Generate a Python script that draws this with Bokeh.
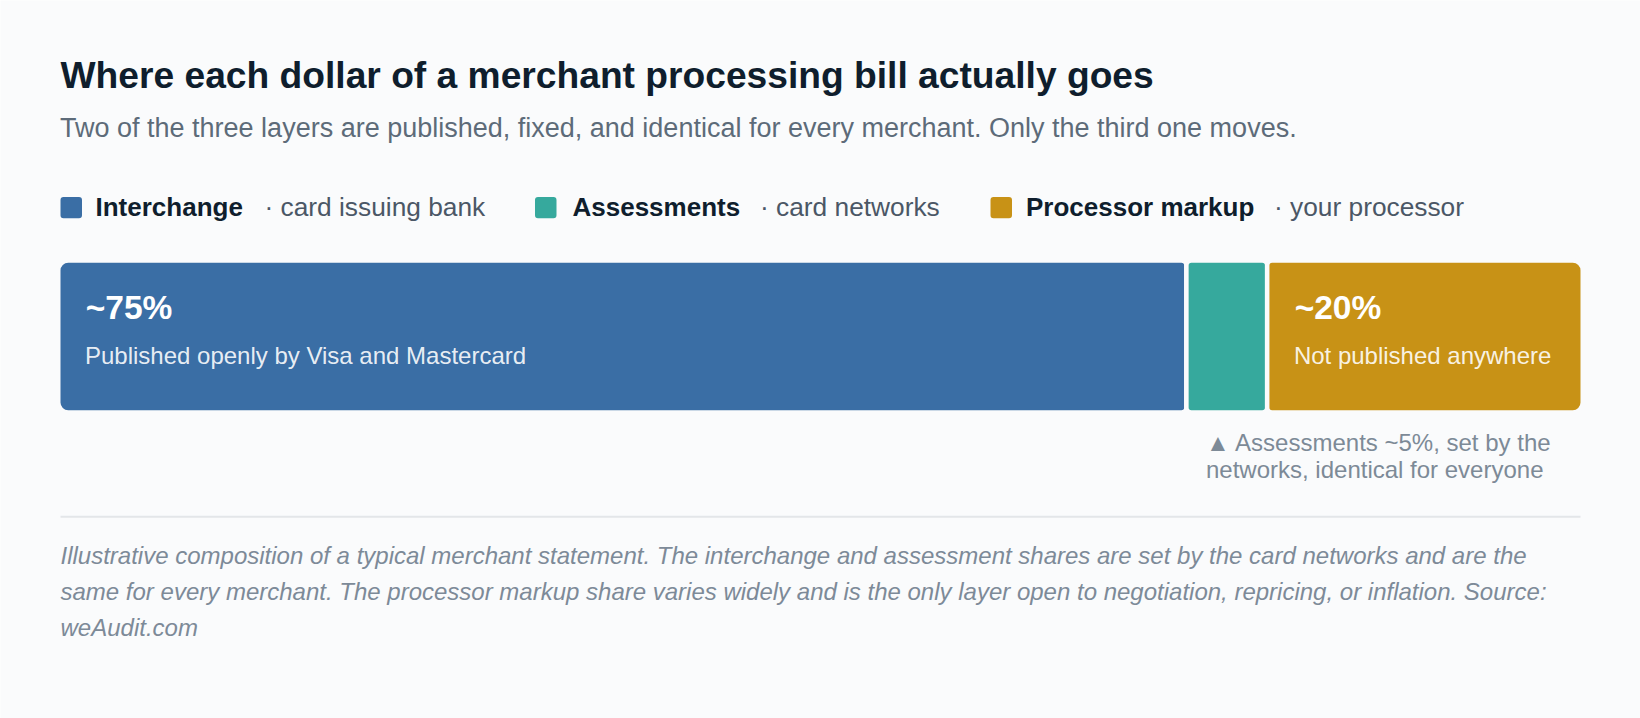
from bokeh.plotting import figure
from bokeh.models import Range1d, Label, BoxAnnotation, ColumnDataSource, CDSView, IndexFilter
from bokeh.embed import file_html
from bokeh.resources import INLINE
from bokeh.core.properties import value

# ---------------- data ----------------
segments = ["Interchange", "Assessments", "Processor markup"]
owners = ["card issuing bank", "card networks", "your processor"]
shares = [74.0, 5.3, 20.7]
share_labels = ["~75%", "", "~20%"]
notes = ["Published openly by Visa and Mastercard", "", "Not published anywhere"]
colors = ["#3a6ea5", "#36a99d", "#c89216"]

title = "Where each dollar of a merchant processing bill actually goes"
subtitle = ("Two of the three layers are published, fixed, and identical for every merchant. "
            "Only the third one moves.")
callout = ["\u25B2 Assessments ~5%, set by the", "networks, identical for everyone"]
footer = [
    "Illustrative composition of a typical merchant statement. The interchange and assessment shares are set by the card networks and are the",
    "same for every merchant. The processor markup share varies widely and is the only layer open to negotiation, repricing, or inflation. Source:",
    "weAudit.com",
]

# ---------------- style / layout ----------------
W, H = 1640, 718
BG = "#fafbfc"
FONT = "Liberation Sans"
GAP = 4.5
BASE_FIX = 0.38   # baseline correction (fraction of font size)

def sx(x):
    return x

def sy(y):
    return H - y

px_per_unit = 15.245
bar_left_px = sx(57.75)
x_start = -bar_left_px / px_per_unit
x_end = x_start + W / px_per_unit
bar_h_px = 151.9
bar_center_from_top = 336
y_range = Range1d(-(H - bar_center_from_top) / bar_h_px, bar_center_from_top / bar_h_px)

p = figure(width=W, height=H, x_range=Range1d(x_start, x_end), y_range=y_range,
           output_backend="svg", toolbar_location=None,
           x_axis_location=None, y_axis_location=None, min_border=0,
           background_fill_color=BG, border_fill_color=BG, outline_line_color=None)
p.xgrid.visible = False
p.ygrid.visible = False

lefts, rights = [], []
acc = 0.0
for s in shares:
    lefts.append(acc)
    acc += s
    rights.append(acc)

src = ColumnDataSource(dict(
    segment=segments, left=lefts, right=rights, y=[0] * len(shares),
    color=colors, pct=share_labels, note=notes,
))

radii = [(10, 5, 5, 10), (5, 5, 5, 5), (5, 10, 10, 5)]
for i in range(len(shares)):
    p.hbar(y="y", left="left", right="right", height=1, source=src,
           view=CDSView(filter=IndexFilter([i])),
           fill_color="color", line_color=BG, line_width=GAP,
           border_radius=radii[i])

big_size, note_size = 33.5, 24
p.text(x="left", y="y", text="pct", source=src, x_offset=27.5,
       y_offset=-16 - BASE_FIX * big_size,
       text_font=value(FONT), text_font_size=f"{big_size}px", text_font_style="bold",
       text_color="white", text_baseline="alphabetic", text_align="left")
p.text(x="left", y="y", text="note", source=src, x_offset=26.7,
       y_offset=28.3 - BASE_FIX * note_size,
       text_font=value(FONT), text_font_size=f"{note_size}px",
       text_color="white", text_alpha=0.9, text_baseline="alphabetic", text_align="left")

def label(x, y, text, size, color, style="normal", align="left"):
    p.add_layout(Label(x=sx(x), y=sy(y) + BASE_FIX * size, x_units="screen", y_units="screen",
                       text=text, text_font=FONT, text_font_size=f"{size}px",
                       text_font_style=style, text_color=color,
                       text_baseline="alphabetic", text_align=align))

# title / subtitle
label(60, 88.3, title, 37.2, "#0f1e2d", "bold")
label(59.5, 137.8, subtitle, 27, "#5d6b79")

# legend
sq_x = [60, 534.5, 990]
lab_x = [95, 572, 1025.5]
desc_x = [264, 759.5, 1273.5]
for i in range(len(segments)):
    p.add_layout(BoxAnnotation(left=sx(sq_x[i]), right=sx(sq_x[i] + 21.5),
                               top=sy(196.5), bottom=sy(217.8),
                               left_units="screen", right_units="screen",
                               top_units="screen", bottom_units="screen",
                               fill_color=colors[i], fill_alpha=1, line_color=None,
                               border_radius=3))
    label(lab_x[i], 216.7, segments[i], 26, "#0f1e2d", "bold")
    label(desc_x[i], 216.7, "\u00B7 " + owners[i], 26.3, "#4b5766")

# callout under the assessments segment
label(1205.5, 450.7, callout[0], 24, "#7d8a97")
label(1205.5, 477.7, callout[1], 24, "#7d8a97")

# separator
p.add_layout(BoxAnnotation(left=sx(60), right=sx(1580), top=sy(515.2), bottom=sy(517.2),
                           left_units="screen", right_units="screen",
                           top_units="screen", bottom_units="screen",
                           fill_color="#e3e6e9", fill_alpha=1, line_color=None))

# footer
for k, line in enumerate(footer):
    label(60, 564 + 36 * k, line, 24, "#7d8a98", "italic")

html = file_html(p, INLINE)
html = html.replace("<body>", '<body style="background-color:#fafbfc;">', 1)
open("out.html", "w").write(html)
